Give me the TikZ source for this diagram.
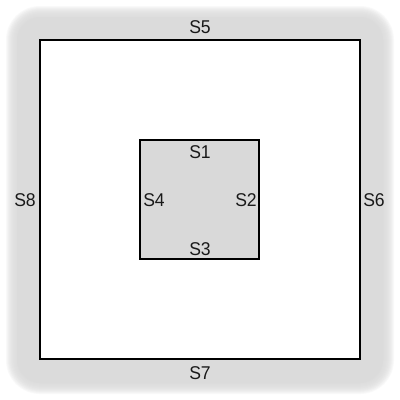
\documentclass[tikz,border=0pt]{standalone}
\usepackage{fontspec}
\setmainfont{Liberation Sans}
\begin{document}
\begin{tikzpicture}[x=1pt,y=-1pt,
  lbl/.style={inner sep=0pt, font=\fontsize{18.5}{18.5}\selectfont, text=black!90, xscale=0.95},
  sq/.style={draw=black, line width=1.1pt, inner sep=0pt, outer sep=0pt}]
\useasboundingbox (0,0) rectangle (400,400);
\fill[white] (0,0) rectangle (400,400);
\foreach \i in {0,...,11} {
  \fill[black!14, opacity=0.16, rounded corners={34-\i}] (6+\i,6+\i) rectangle (394-\i,394-\i);
}
\fill[black!14, rounded corners=24] (17,17) rectangle (383,383);
\node[sq, fill=white, minimum width=320pt, minimum height=319pt] (outer) at (200,199.5) {};
\node[sq, fill=black!15, minimum width=119pt, minimum height=119pt] (inner) at (199.5,199.5) {};
\node[lbl] (s5) at (200,27) {S5};
\node[lbl] (s7) at (200,373) {S7};
\node[lbl] (s8) at (25,200) {S8};
\node[lbl] (s6) at (374,200) {S6};
\node[lbl] (s1) at (200,152) {S1};
\node[lbl] (s3) at (200,249) {S3};
\node[lbl] (s4) at (154,200) {S4};
\node[lbl] (s2) at (246,200) {S2};
\end{tikzpicture}
\end{document}
